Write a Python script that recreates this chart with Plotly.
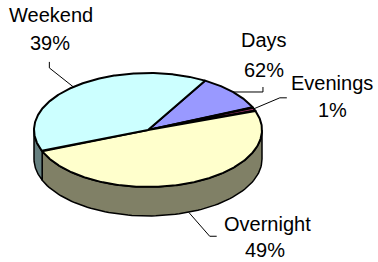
import numpy as np
import plotly.graph_objects as go

# ---- data ----
categories = ["Days", "Evenings", "Overnight", "Weekend"]
values = [10, 1, 49, 39]
pct_labels = ["62%", "1%", "49%", "39%"]
top_colors = ["#9999FF", "#993366", "#FFFFCC", "#CCFFFF"]
side_colors = ["#4D4D80", "#4D1A33", "#808066", "#668080"]

# ---- geometry / style ----
W, H = 378, 262
CX, CY, A, B, DEPTH = 148, 130, 114, 57, 29
START = 60.0  # degrees, slices go clockwise from here
FONT = dict(family="Liberation Sans, Arial, sans-serif", size=20, color="black")

def ex(t):
    return CX + A * np.cos(np.radians(t))

def ey(t):
    return CY - B * np.sin(np.radians(t))

total = float(sum(values))
spans = [v / total * 360.0 for v in values]
bounds = []
s = START
for sp in spans:
    bounds.append((s, s - sp))
    s -= sp

fig = go.Figure()

# side walls (front half: angle in [-180+360k, 360k])
for (s0, e0), col in zip(bounds, side_colors):
    for k in (-1, 0, 1):
        lo = max(e0, -180 + 360 * k)
        hi = min(s0, 360 * k)
        if hi - lo <= 0:
            continue
        t = np.linspace(lo, hi, 80)
        xs = np.concatenate([ex(t), ex(t[::-1])])
        ys = np.concatenate([ey(t), ey(t[::-1]) + DEPTH])
        xs = np.append(xs, xs[0]); ys = np.append(ys, ys[0])
        fig.add_trace(go.Scatter(x=xs, y=ys, mode="lines", fill="toself",
                                 fillcolor=col, line=dict(color="black", width=1.5),
                                 hoverinfo="skip", showlegend=False))

# top faces
for (s0, e0), col, name in zip(bounds, top_colors, categories):
    t = np.linspace(s0, e0, max(4, int(abs(s0 - e0) * 2)))
    xs = np.concatenate([[CX], ex(t), [CX]])
    ys = np.concatenate([[CY], ey(t), [CY]])
    fig.add_trace(go.Scatter(x=xs, y=ys, mode="lines", fill="toself",
                             fillcolor=col, line=dict(color="black", width=2),
                             name=name, hoverinfo="name", showlegend=False))

# label layout: per category leader offsets and label positions
leader = {
    "Weekend": [(-24, -19), (-24, -25)],
    "Days": [(30, 0), (30, -5)],
    "Evenings": [(26, -11), (33, -11)],
    "Overnight": [(21, 24), (28, 24)],
}
label_pos = {
    "Weekend": ((51, 15), (50, 43)),
    "Days": ((264, 40), (264, 70)),
    "Evenings": ((332, 83), (332, 110)),
    "Overnight": ((267, 224), (265, 250)),
}

for (s0, e0), name, pct in zip(bounds, categories, pct_labels):
    mid = (s0 + e0) / 2.0
    px, py = float(ex(mid)), float(ey(mid))
    if np.sin(np.radians(mid)) < 0:
        py += DEPTH
    lx = [px] + [px + d[0] for d in leader[name]]
    ly = [py] + [py + d[1] for d in leader[name]]
    fig.add_trace(go.Scatter(x=lx, y=ly, mode="lines",
                             line=dict(color="black", width=1),
                             hoverinfo="skip", showlegend=False))
    (x1, y1), (x2, y2) = label_pos[name]
    fig.add_annotation(x=x1, y=y1, text=name, showarrow=False,
                       xanchor="center", yanchor="middle", font=FONT)
    fig.add_annotation(x=x2, y=y2, text=pct, showarrow=False,
                       xanchor="center", yanchor="middle", font=FONT)

fig.update_layout(
    width=W, height=H,
    margin=dict(l=0, r=0, t=0, b=0),
    paper_bgcolor="white", plot_bgcolor="white",
    xaxis=dict(range=[0, W], visible=False, fixedrange=True),
    yaxis=dict(range=[H, 0], visible=False, fixedrange=True),
    showlegend=False,
)

fig.write_html(
    "out.html",
    config={"displayModeBar": False},
    post_script="document.body.style.margin='0';document.body.style.overflow='hidden';",
)
